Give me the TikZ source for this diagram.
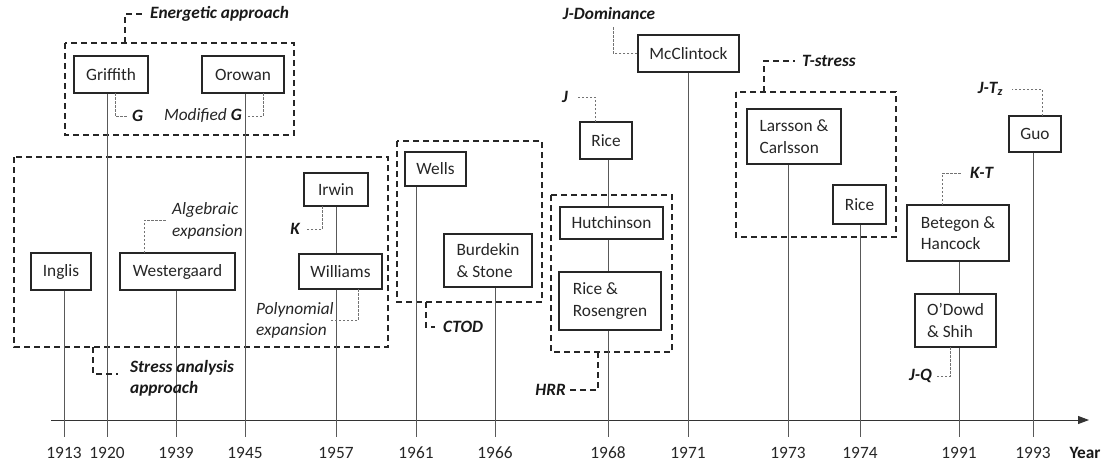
\documentclass[tikz,border=0pt]{standalone}
\usepackage{fontspec}
\setmainfont{Carlito}
\usetikzlibrary{arrows.meta}
\definecolor{txt}{gray}{0.15}
\newcommand\fsz{\fontsize{17.3}{21.5}\selectfont}
\begin{document}
\begin{tikzpicture}[x=1pt,y=-1pt,
  box/.style={draw=black!85, line width=1.4pt, inner sep=0pt, text=txt, font=\fsz, align=left},
  grp/.style={draw=black!85, line width=1.6pt, dash pattern=on 6pt off 4pt},
  lead/.style={draw=black!85, line width=1.6pt, dash pattern=on 6pt off 4pt},
  dotl/.style={draw=black!55, line width=0.8pt, dash pattern=on 2.5pt off 1.5pt},
  tl/.style={draw=black!65, line width=0.9pt},
  lab/.style={font=\fsz\bfseries\itshape, text=black!90, inner sep=0pt},
  ilab/.style={font=\fsz\itshape, text=txt, inner sep=0pt, align=left},
  yr/.style={font=\fsz, text=txt, inner sep=0pt}]
\useasboundingbox (0,0) rectangle (1108,467);

% group frames
\draw[grp] (65,43) rectangle (294,135);
\draw[grp] (14,157) rectangle (388,347);
\draw[grp] (397,141) rectangle (542,302);
\draw[grp] (551,195) rectangle (672,352);
\draw[grp] (736,92) rectangle (896,237);

% boxes
\node[box, minimum width=74pt, minimum height=37pt] (griffith) at (111,74.5) {Griffith};
\node[box, minimum width=82pt, minimum height=37pt] (orowan) at (243,74.5) {Orowan};
\node[box, minimum width=60pt, minimum height=37pt] (inglis) at (61,271.5) {Inglis};
\node[box, minimum width=115pt, minimum height=37pt] (wester) at (177.5,271.5) {Westergaard};
\node[box, minimum width=64pt, minimum height=33pt] (irwin) at (336,189.5) {Irwin};
\node[box, minimum width=83pt, minimum height=35pt] (williams) at (340.5,271.5) {Williams};
\node[box, minimum width=61pt, minimum height=34pt] (wells) at (435.5,169) {Wells};
\node[box, minimum width=88pt, minimum height=53pt] (burdekin) at (488,260.5) {Burdekin\\\& Stone};
\node[box, minimum width=52pt, minimum height=37pt] (rice68) at (606,140.5) {Rice};
\node[box, minimum width=103pt, minimum height=32pt] (hutch) at (611.5,223) {Hutchinson};
\node[box, minimum width=102pt, minimum height=58pt] (riceros) at (610,301) {Rice \&\\Rosengren};
\node[box, minimum width=101pt, minimum height=37pt] (mcc) at (688.5,53.5) {McClintock};
\node[box, minimum width=94pt, minimum height=55pt] (larsson) at (794,136.5) {Larsson \&\\Carlsson};
\node[box, minimum width=53pt, minimum height=39pt] (rice74) at (859.5,204.5) {Rice};
\node[box, minimum width=102pt, minimum height=56pt] (betegon) at (958,233) {Betegon \&\\Hancock};
\node[box, minimum width=81pt, minimum height=53pt] (odowd) at (955.5,320.5) {O’Dowd\\\& Shih};
\node[box, minimum width=52pt, minimum height=36pt] (guo) at (1035,134) {Guo};

% axis and ticks
\coordinate (ax0) at (51,420);
\coordinate (ax1) at (1089,420);
\draw[line width=1pt, black!80, -{Triangle[length=11pt,width=8pt]}] (ax0) -- (ax1);
\foreach \n/\x in {1913/64,1920/107,1939/176,1945/245,1957/336,1961/416,1966/495,1968/608,1971/688,1973/788,1974/860,1991/959,1993/1033}{
  \coordinate (t\n) at (\x,437);
  \node[yr] (y\n) at (\x,453) {\n};
}
\node[yr, font=\fsz\bfseries, text=black!90] (year) at (1085,453) {Year};

% timeline connectors
\draw[tl] (inglis.south -| t1913) -- (t1913);
\draw[tl] (griffith.south -| t1920) -- (t1920);
\draw[tl] (wester.south -| t1939) -- (t1939);
\draw[tl] (orowan.south -| t1945) -- (t1945);
\draw[tl] (irwin.south -| t1957) -- (williams.north -| t1957);
\draw[tl] (williams.south -| t1957) -- (t1957);
\draw[tl] (wells.south -| t1961) -- (t1961);
\draw[tl] (burdekin.south -| t1966) -- (t1966);
\draw[tl] (rice68.south -| t1968) -- (hutch.north -| t1968);
\draw[tl] (hutch.south -| t1968) -- (riceros.north -| t1968);
\draw[tl] (riceros.south -| t1968) -- (t1968);
\draw[tl] (mcc.south -| t1971) -- (t1971);
\draw[tl] (larsson.south -| t1973) -- (t1973);
\draw[tl] (rice74.south -| t1974) -- (t1974);
\draw[tl] (betegon.south -| t1991) -- (odowd.north -| t1991);
\draw[tl] (odowd.south -| t1991) -- (t1991);
\draw[tl] (guo.south -| t1993) -- (t1993);

% group labels and leaders
\node[lab, anchor=west] (lE) at (150,14) {Energetic approach};
\draw[lead] (125,43) |- ([xshift=-5pt]lE.west);
\node[lab, anchor=west, align=left] (lS) at (130,378.5) {Stress analysis\\approach};
\draw[lead] (93,347) |- (118,374);
\node[lab, anchor=west] (lC) at (443,327) {CTOD};
\draw[lead] (426,302) |- ([xshift=-8pt]lC.west);
\node[lab, anchor=east] (lH) at (566,390) {HRR};
\draw[lead] (598,352) |- ([xshift=4pt]lH.east);
\node[lab, anchor=west] (lT) at (802,61) {T-stress};
\draw[lead] (764,92) |- ([xshift=-7pt]lT.west);

% concept labels and dotted leaders
\node[lab, anchor=west] (lG) at (132,116) {G};
\draw[dotl] (115,93) |- ([xshift=-4pt]lG.west);
\node[ilab, anchor=east] (lMG) at (242,116) {Modified \textbf{\color{black!90}G}};
\draw[dotl] (263,93) |- ([xshift=6pt]lMG.east);
\node[ilab, anchor=west] (lAlg) at (172,221) {Algebraic\\expansion};
\draw[dotl] (144,253) |- (166,220);
\node[lab, anchor=east] (lK) at (300,229) {K};
\draw[dotl] (322,206) |- ([xshift=6pt]lK.east);
\node[ilab, anchor=west] (lPol) at (256,320.5) {Polynomial\\expansion};
\draw[dotl] (358,289) |- (330,320);
\node[lab] (lJD) at (609,13) {J-Dominance};
\draw[dotl] (mcc.west) -| (613,27);
\node[lab] (lJ) at (565,97) {J};
\draw[dotl] (595,122) |- ([xshift=8pt]lJ.east);
\node[lab, anchor=west] (lKT) at (970,173) {K-T};
\draw[dotl] (942,205) |- ([xshift=-8pt]lKT.west);
\node[lab, anchor=east] (lJT) at (1003,89) {J-T\textsubscript{z}};
\draw[dotl] (1042,116) |- ([xshift=9pt]lJT.east);
\node[lab, anchor=east] (lJQ) at (932,376) {J-Q};
\draw[dotl] (950,347) |- ([xshift=3pt]lJQ.east);
\end{tikzpicture}
\end{document}
